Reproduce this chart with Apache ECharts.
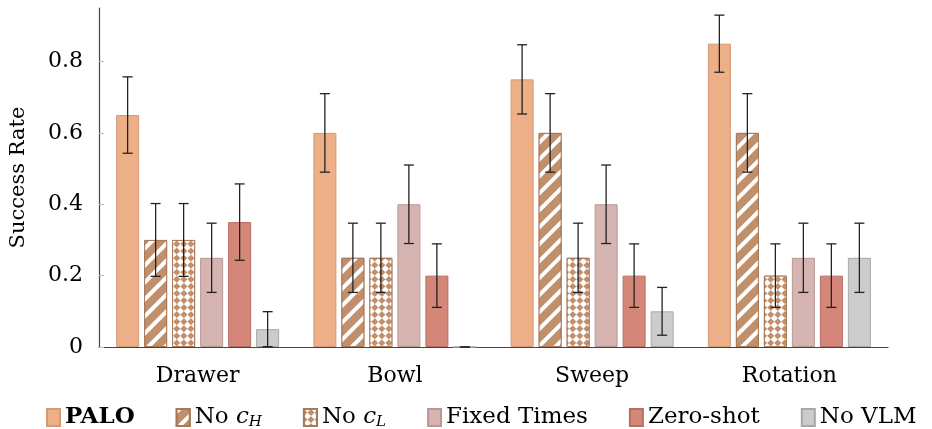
<!DOCTYPE html>
<html>
<head>
<meta charset="utf-8">
<script src="https://cdn.jsdelivr.net/npm/echarts@6/dist/echarts.min.js"></script>
<style>
  html, body { margin: 0; padding: 0; background: #fff; }
  #main { width: 932px; height: 429px; }
</style>
</head>
<body>
<div id="main"></div>
<script>
// tasks on the x axis
const categories = ['Drawer', 'Bowl', 'Sweep', 'Rotation'];

// success rates per method
const palo = [0.65, 0.60, 0.75, 0.85];
const noCH = [0.30, 0.25, 0.60, 0.60];
const noCL = [0.30, 0.25, 0.25, 0.20];
const fixedTimes = [0.25, 0.40, 0.40, 0.25];
const zeroShot = [0.35, 0.20, 0.20, 0.20];
const noVLM = [0.05, 0.00, 0.10, 0.25];

// half length of the error bars
const paloErr = [0.107, 0.110, 0.097, 0.080];
const noCHErr = [0.102, 0.097, 0.110, 0.110];
const noCLErr = [0.102, 0.097, 0.097, 0.089];
const fixedTimesErr = [0.097, 0.110, 0.110, 0.097];
const zeroShotErr = [0.107, 0.089, 0.089, 0.089];
const noVLMErr = [0.049, 0.000, 0.067, 0.097];

const yTicks = [0, 0.2, 0.4, 0.6, 0.8];

const FONT = 'DejaVu Serif';
const BAR_W = 23;
const BAR_GAP = 5;

const methods = [
    {name: 'PALO', data: palo, err: paloErr, color: '#ECAF88', border: '#D39A76'},
    {name: 'No cH', data: noCH, err: noCHErr, color: '#C08F6C', border: '#A87A5B',
        decal: {symbol: 'rect', dashArrayX: [1, 0], dashArrayY: [4, 8], rotation: -Math.PI / 4, color: '#ffffff'}},
    {name: 'No cL', data: noCL, err: noCLErr, color: '#C08F6C', border: '#A87A5B',
        decal: {symbol: 'rect', dashArrayX: [[5, 5], [0, 5, 5, 0]], dashArrayY: [5, 0], rotation: Math.PI / 4, color: '#ffffff'}},
    {name: 'Fixed Times', data: fixedTimes, err: fixedTimesErr, color: '#D5B4B1', border: '#B89896'},
    {name: 'Zero-shot', data: zeroShot, err: zeroShotErr, color: '#D48778', border: '#B86E60'},
    {name: 'No VLM', data: noVLM, err: noVLMErr, color: '#CCCCCC', border: '#A8A8A8'}
];

const myChart = echarts.init(document.getElementById('main'));

const series = [];
methods.forEach((m, i) => {
    series.push({
        name: m.name,
        type: 'bar',
        data: m.data,
        barWidth: BAR_W,
        barGap: (BAR_GAP / BAR_W * 100) + '%',
        itemStyle: {
            color: m.color,
            borderColor: m.border,
            borderWidth: 1,
            decal: m.decal || null
        },
        z: 2
    });
});

// error bars, shifted to sit on the matching bar
const groupW = methods.length * BAR_W + (methods.length - 1) * BAR_GAP;
methods.forEach((m, i) => {
    const offset = -groupW / 2 + BAR_W / 2 + i * (BAR_W + BAR_GAP);
    series.push({
        type: 'custom',
        name: m.name + ' err',
        z: 5,
        silent: true,
        data: m.data.map((v, k) => [k, v - m.err[k], v + m.err[k]]),
        renderItem: (params, api) => {
            const lo = api.coord([api.value(0), Math.max(0, api.value(1))]);
            const hi = api.coord([api.value(0), api.value(2)]);
            const x = lo[0] + offset;
            const cap = 5;
            const style = {stroke: '#222', lineWidth: 1.3};
            return {
                type: 'group',
                children: [
                    {type: 'line', shape: {x1: x, y1: lo[1], x2: x, y2: hi[1]}, style},
                    {type: 'line', shape: {x1: x - cap, y1: lo[1], x2: x + cap, y2: lo[1]}, style},
                    {type: 'line', shape: {x1: x - cap, y1: hi[1], x2: x + cap, y2: hi[1]}, style}
                ]
            };
        }
    });
});

const options = {
    animation: false,
    textStyle: {fontFamily: FONT},
    grid: {left: 90, right: 44, top: 8, bottom: 82, containLabel: false},
    legend: {
        data: methods.map(m => ({name: m.name, icon: 'rect'})),
        top: 401,
        left: 41,
        itemWidth: 13,
        itemHeight: 17,
        itemGap: 41,
        textStyle: {
            fontFamily: FONT,
            fontSize: 23,
            color: '#000',
            rich: {
                b: {fontFamily: FONT, fontSize: 23, fontWeight: 'bold', color: '#000'},
                n: {fontFamily: FONT, fontSize: 23, color: '#000'},
                i: {fontFamily: FONT, fontSize: 23, fontStyle: 'italic', color: '#000'},
                s: {fontFamily: FONT, fontSize: 15, fontStyle: 'italic', color: '#000', padding: [10, 0, 0, 0]}
            }
        },
        formatter: name => {
            if (name === 'PALO') return '{b|PALO}';
            if (name === 'No cH') return '{n|No }{i|c}{s|H}';
            if (name === 'No cL') return '{n|No }{i|c}{s|L}';
            return name;
        }
    },
    xAxis: {
        type: 'category',
        data: categories,
        axisLine: {lineStyle: {color: '#444', width: 1.2}},
        axisTick: {alignWithLabel: true, length: 10, lineStyle: {color: '#bbb'}},
        axisLabel: {fontFamily: FONT, fontSize: 22, color: '#000', margin: 18}
    },
    yAxis: {
        type: 'value',
        min: 0,
        max: 0.95,
        name: 'Success Rate',
        nameLocation: 'middle',
        nameGap: 70,
        nameTextStyle: {fontFamily: FONT, fontSize: 21, color: '#000'},
        axisLine: {show: true, lineStyle: {color: '#444', width: 1.2}},
        axisTick: {show: true, inside: true, length: 5, customValues: yTicks, lineStyle: {color: '#bbb'}},
        axisLabel: {
            fontFamily: FONT, fontSize: 22, color: '#000', margin: 16,
            customValues: yTicks,
            formatter: v => v === 0 ? '0' : v.toFixed(1)
        },
        splitLine: {show: false}
    },
    series: series
};

myChart.setOption(options);
</script>
</body>
</html>
